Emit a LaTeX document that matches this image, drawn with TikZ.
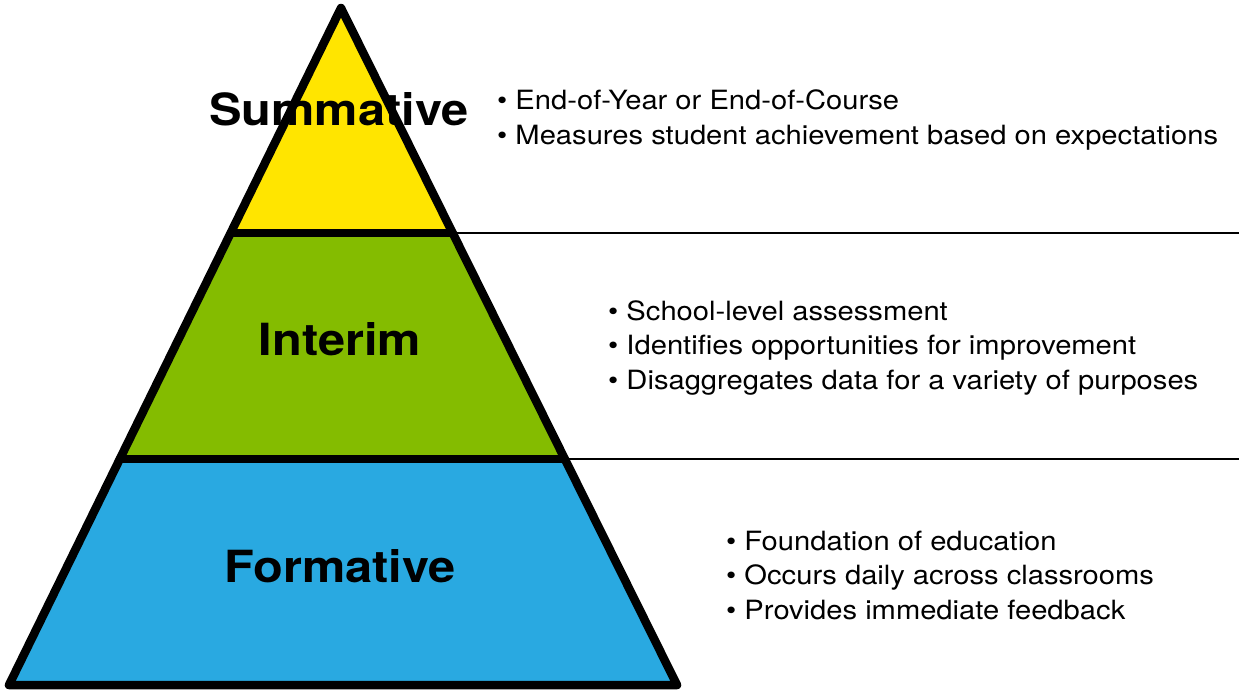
\documentclass[tikz,border=0pt]{standalone}
\usepackage{fontspec}
\setmainfont{TeX Gyre Heros}[FakeStretch=1.1]
\usetikzlibrary{calc}

\definecolor{sumyellow}{RGB}{255,229,0}
\definecolor{intgreen}{RGB}{132,188,0}
\definecolor{formblue}{RGB}{41,169,225}

\tikzset{
  outline/.style={line width=8.5pt, line join=round, line cap=round},
  divider/.style={line width=2pt},
  level/.style={font=\fontsize{44.3}{50}\selectfont\bfseries, anchor=base, inner sep=0pt},
  bullets/.style={font=\fontsize{26.5}{34.4}\selectfont, align=left, anchor=base west, inner sep=0pt}
}

\begin{document}
\begin{tikzpicture}[x=1pt,y=-1pt]
  \useasboundingbox (0,0) rectangle (1239,691);

  \coordinate (apex) at (341,8);
  \coordinate (leftbase) at (9,685);
  \coordinate (rightbase) at (677,685);
  \coordinate (l1) at ($(apex)!0.3323!(leftbase)$);  % Top divider
  \coordinate (r1) at ($(apex)!0.3323!(rightbase)$);
  \coordinate (l2) at ($(apex)!0.6662!(leftbase)$);  % Bottom divider
  \coordinate (r2) at ($(apex)!0.6662!(rightbase)$);
  \coordinate (e1) at (r1 -| 1239,0);
  \coordinate (e2) at (r2 -| 1239,0);

  \fill[sumyellow] (apex) -- (r1) -- (l1) -- cycle;              % Summative
  \fill[intgreen] (l1) -- (r1) -- (r2) -- (l2) -- cycle;         % Interim
  \fill[formblue] (l2) -- (r2) -- (rightbase) -- (leftbase) -- cycle; % Formative

  \draw[outline] (apex) -- (rightbase) -- (leftbase) -- cycle;
  \draw[outline] (l1) -- (r1);
  \draw[outline] (l2) -- (r2);
  \draw[divider] (r1) -- (e1);
  \draw[divider] (r2) -- (e2);

  \node[level] (summative) at (339,125) {Summative};
  \node[level] (interim) at (340,355) {Interim};
  \node[level] (formative) at (340,582) {Formative};

  % base of each list is its last line
  \node[bullets] (sumlist) at (497,144) {\textbullet\ End-of-Year or End-of-Course\\
    \textbullet\ Measures student achievement based on expectations};
  \node[bullets] (intlist) at (608,389) {\textbullet\ School-level assessment\\
    \textbullet\ Identifies opportunities for improvement\\
    \textbullet\ Disaggregates data for a variety of purposes};
  \node[bullets] (formlist) at (726,619) {\textbullet\ Foundation of education\\
    \textbullet\ Occurs daily across classrooms\\
    \textbullet\ Provides immediate feedback};
\end{tikzpicture}
\end{document}
